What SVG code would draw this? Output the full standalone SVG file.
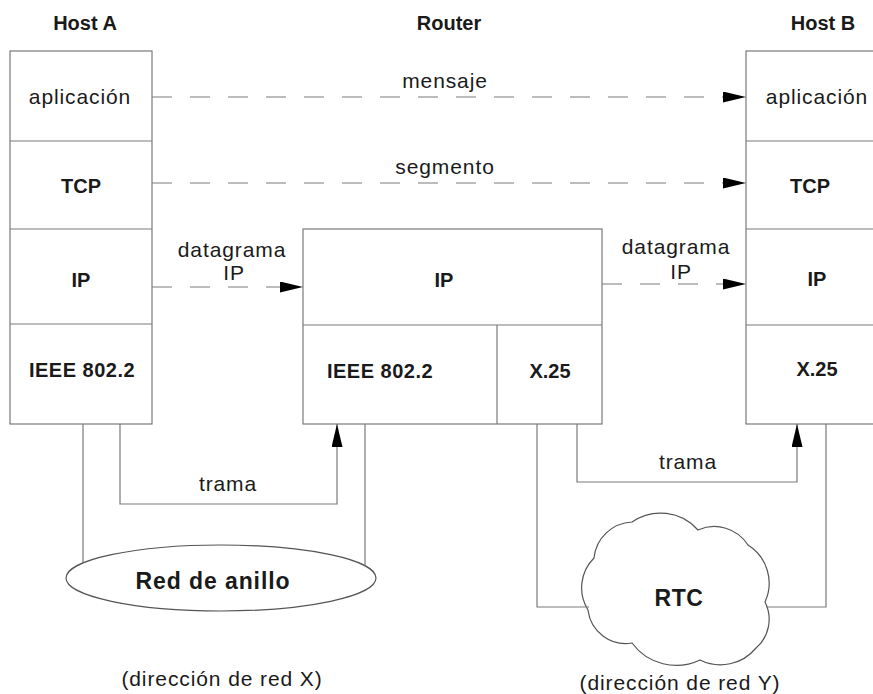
<svg xmlns="http://www.w3.org/2000/svg" width="873" height="694" viewBox="0 0 873 694">
<style>
.box{fill:none;stroke:#7a7a7a;stroke-width:1.2}
.ln{fill:none;stroke:#7a7a7a;stroke-width:1.2}
.dash{fill:none;stroke:#7a7a7a;stroke-width:1.2;stroke-dasharray:20 18}
.t{font-family:"Liberation Sans",Arial,sans-serif;font-size:21px;fill:#1a1a1a;text-anchor:middle;letter-spacing:0.9px}
.b{font-family:"Liberation Sans",Arial,sans-serif;font-size:20px;font-weight:bold;fill:#1a1a1a;text-anchor:middle}
.net{fill:#fff;stroke:#555;stroke-width:1.2}
</style>
<defs>
<marker id="ah" markerUnits="userSpaceOnUse" markerWidth="24" markerHeight="12" refX="23" refY="5.5" orient="auto">
<path d="M0,0 L23,5.5 L0,11 Z" fill="#000"/>
</marker>
</defs>
<g id="titles">
<text class="b" x="85" y="30">Host A</text>
<text class="b" x="449" y="30">Router</text>
<text class="b" x="823" y="30">Host B</text>
</g>
<g id="hostA">
<rect class="box" x="10" y="51" width="142" height="373"/>
<line class="box" x1="10" y1="141" x2="152" y2="141"/>
<line class="box" x1="10" y1="229" x2="152" y2="229"/>
<line class="box" x1="10" y1="324" x2="152" y2="324"/>
<text class="t" x="80" y="104">aplicación</text>
<text class="b" x="81" y="193">TCP</text>
<text class="b" x="81" y="287">IP</text>
<text class="b" x="82" y="377" style="letter-spacing:0.5px">IEEE 802.2</text>
</g>
<g id="router">
<rect class="box" x="303" y="229" width="299" height="195"/>
<line class="box" x1="303" y1="325" x2="602" y2="325"/>
<line class="box" x1="497" y1="325" x2="497" y2="424"/>
<text class="b" x="444" y="287">IP</text>
<text class="b" x="380" y="378" style="letter-spacing:0.5px">IEEE 802.2</text>
<text class="b" x="550" y="378">X.25</text>
</g>
<g id="hostB">
<rect class="box" x="746" y="51" width="140" height="373"/>
<line class="box" x1="746" y1="141" x2="873" y2="141"/>
<line class="box" x1="746" y1="229" x2="873" y2="229"/>
<line class="box" x1="746" y1="325" x2="873" y2="325"/>
<text class="t" x="817" y="104">aplicación</text>
<text class="b" x="810" y="193">TCP</text>
<text class="b" x="817" y="286">IP</text>
<text class="b" x="817" y="376">X.25</text>
</g>
<g id="ring">
<ellipse class="net" cx="221" cy="578" rx="155" ry="33"/>
<text class="b" x="213" y="589" style="font-size:23px;letter-spacing:0.9px">Red de anillo</text>
</g>
<g id="rtc">
<path class="net" d="M588,610 A42,42 0 0 1 594,558 A40,40 0 0 1 632,522 A50,50 0 0 1 698,530 A40,40 0 0 1 748,545 A45,45 0 0 1 765,602 A38,38 0 0 1 756,648 A46,46 0 0 1 700,660 A55,55 0 0 1 632,643 A38,38 0 0 1 588,610 Z"/>
<text class="b" x="679" y="606" style="font-size:23px;letter-spacing:0.5px">RTC</text>
</g>
<g id="connectors">
<line class="dash" x1="152" y1="97" x2="746" y2="97" marker-end="url(#ah)"/>
<line class="dash" x1="152" y1="183" x2="746" y2="183" marker-end="url(#ah)"/>
<line class="dash" x1="152" y1="287" x2="303" y2="287" marker-end="url(#ah)"/>
<line class="dash" x1="602" y1="284" x2="746" y2="284" marker-end="url(#ah)"/>
<polyline class="ln" points="120,424 120,504 337,504 337,424" marker-end="url(#ah)"/>
<polyline class="ln" points="577,424 577,482 797,482 797,424" marker-end="url(#ah)"/>
<line class="ln" x1="83" y1="424" x2="83" y2="563"/>
<line class="ln" x1="365" y1="424" x2="365" y2="566"/>
<polyline class="ln" points="537,424 537,607 589,607"/>
<polyline class="ln" points="826,424 826,607 766,607"/>
</g>
<g id="labels">
<text class="t" x="445" y="88">mensaje</text>
<text class="t" x="445" y="174">segmento</text>
<text class="t" x="232" y="257">datagrama</text>
<text class="t" x="234" y="280">IP</text>
<text class="t" x="676" y="254">datagrama</text>
<text class="t" x="681" y="279">IP</text>
<text class="t" x="228" y="491">trama</text>
<text class="t" x="688" y="469">trama</text>
<text class="t" x="222" y="686">(dirección de red X)</text>
<text class="t" x="680" y="690">(dirección de red Y)</text>
</g>
</svg>
